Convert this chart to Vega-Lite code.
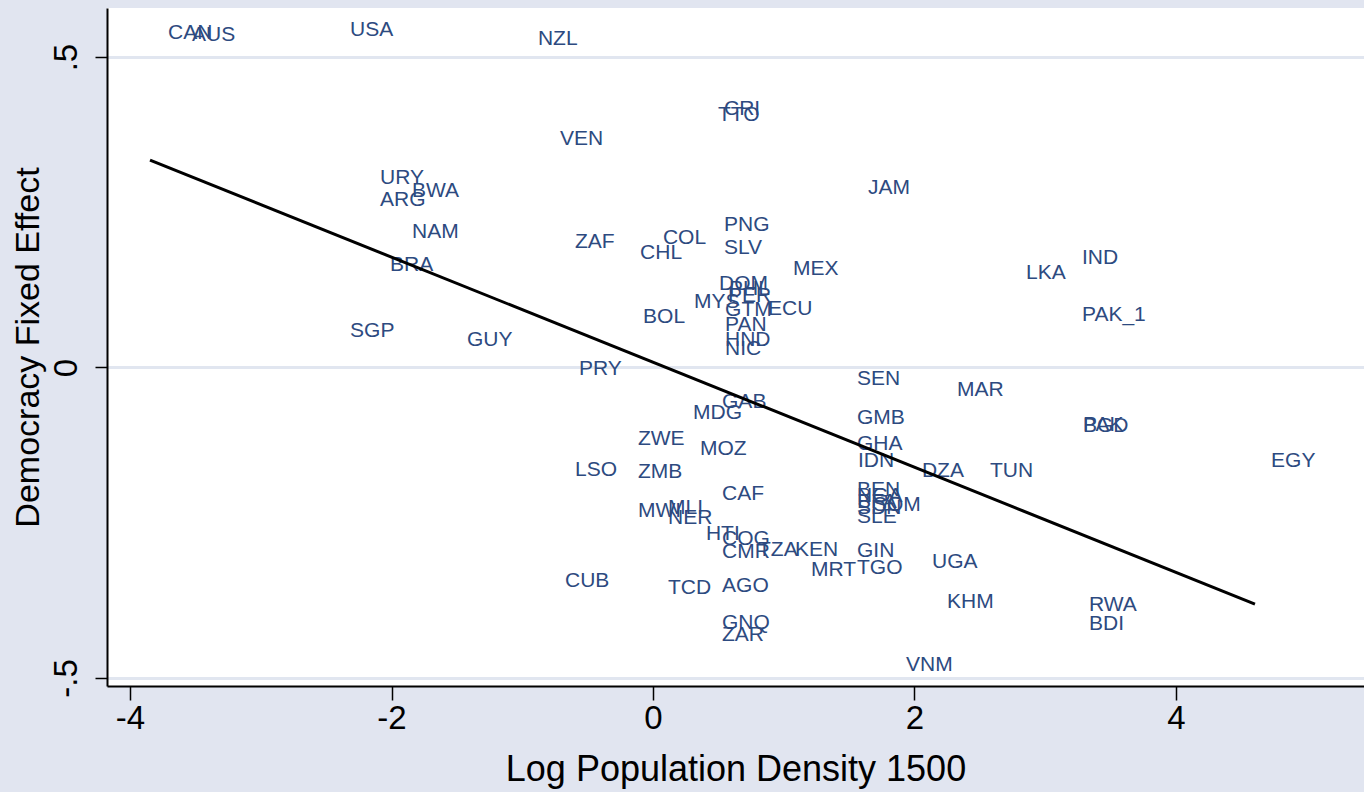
{
  "$schema": "https://vega.github.io/schema/vega-lite/v6.json",
  "autosize": {"type": "none"},
  "padding": {"left": 107, "top": 8, "right": 0, "bottom": 106},
  "width": 1257,
  "height": 678,
  "background": "#e1e5f0",
  "config": {"view": {"stroke": null, "fill": "white"}, "font": "Liberation Sans"},
  "datasets": {
    "countries": [
      {"code": "CAN", "x": -3.839, "y": 0.539},
      {"code": "AUS", "x": -3.656, "y": 0.535},
      {"code": "USA", "x": -2.447, "y": 0.544},
      {"code": "NZL", "x": -1.010, "y": 0.529},
      {"code": "CRI", "x": 0.413, "y": 0.416},
      {"code": "TTO", "x": 0.367, "y": 0.406},
      {"code": "VEN", "x": -0.841, "y": 0.368},
      {"code": "URY", "x": -2.218, "y": 0.305},
      {"code": "BWA", "x": -1.973, "y": 0.284},
      {"code": "ARG", "x": -2.218, "y": 0.269},
      {"code": "JAM", "x": 1.514, "y": 0.289},
      {"code": "PNG", "x": 0.413, "y": 0.229},
      {"code": "NAM", "x": -1.973, "y": 0.218},
      {"code": "ZAF", "x": -0.727, "y": 0.202},
      {"code": "COL", "x": -0.054, "y": 0.208},
      {"code": "CHL", "x": -0.229, "y": 0.184},
      {"code": "SLV", "x": 0.413, "y": 0.192},
      {"code": "BRA", "x": -2.141, "y": 0.165},
      {"code": "MEX", "x": 0.941, "y": 0.158},
      {"code": "IND", "x": 3.151, "y": 0.176},
      {"code": "LKA", "x": 2.723, "y": 0.152},
      {"code": "DOM", "x": 0.375, "y": 0.134},
      {"code": "PHL", "x": 0.451, "y": 0.127},
      {"code": "PER", "x": 0.444, "y": 0.115},
      {"code": "MYS", "x": 0.184, "y": 0.106},
      {"code": "GTM", "x": 0.421, "y": 0.092},
      {"code": "ECU", "x": 0.750, "y": 0.094},
      {"code": "BOL", "x": -0.206, "y": 0.081},
      {"code": "PAN", "x": 0.421, "y": 0.068},
      {"code": "HND", "x": 0.421, "y": 0.044},
      {"code": "NIC", "x": 0.421, "y": 0.029},
      {"code": "SGP", "x": -2.447, "y": 0.058},
      {"code": "GUY", "x": -1.553, "y": 0.045},
      {"code": "PAK_1", "x": 3.151, "y": 0.085},
      {"code": "PRY", "x": -0.696, "y": -0.002},
      {"code": "SEN", "x": 1.430, "y": -0.018},
      {"code": "MAR", "x": 2.195, "y": -0.037},
      {"code": "GAB", "x": 0.398, "y": -0.056},
      {"code": "MDG", "x": 0.176, "y": -0.073},
      {"code": "GMB", "x": 1.430, "y": -0.081},
      {"code": "PAK", "x": 3.159, "y": -0.093},
      {"code": "BGD", "x": 3.159, "y": -0.095},
      {"code": "ZWE", "x": -0.245, "y": -0.115},
      {"code": "MOZ", "x": 0.229, "y": -0.131},
      {"code": "GHA", "x": 1.430, "y": -0.124},
      {"code": "IDN", "x": 1.438, "y": -0.150},
      {"code": "LSO", "x": -0.727, "y": -0.165},
      {"code": "ZMB", "x": -0.245, "y": -0.168},
      {"code": "DZA", "x": 1.927, "y": -0.166},
      {"code": "TUN", "x": 2.447, "y": -0.166},
      {"code": "EGY", "x": 4.597, "y": -0.150},
      {"code": "CAF", "x": 0.398, "y": -0.203},
      {"code": "BEN", "x": 1.430, "y": -0.198},
      {"code": "NGA", "x": 1.430, "y": -0.207},
      {"code": "BFA", "x": 1.430, "y": -0.217},
      {"code": "SOM", "x": 1.552, "y": -0.221},
      {"code": "SDN", "x": 1.430, "y": -0.226},
      {"code": "SLE", "x": 1.430, "y": -0.240},
      {"code": "MWI", "x": -0.245, "y": -0.231},
      {"code": "MLI", "x": -0.015, "y": -0.227},
      {"code": "NER", "x": -0.015, "y": -0.242},
      {"code": "HTI", "x": 0.275, "y": -0.268},
      {"code": "COG", "x": 0.398, "y": -0.276},
      {"code": "CMR", "x": 0.398, "y": -0.297},
      {"code": "TZA", "x": 0.673, "y": -0.294},
      {"code": "KEN", "x": 0.956, "y": -0.294},
      {"code": "GIN", "x": 1.430, "y": -0.295},
      {"code": "MRT", "x": 1.078, "y": -0.326},
      {"code": "TGO", "x": 1.430, "y": -0.323},
      {"code": "UGA", "x": 2.004, "y": -0.313},
      {"code": "CUB", "x": -0.803, "y": -0.344},
      {"code": "TCD", "x": -0.015, "y": -0.355},
      {"code": "AGO", "x": 0.398, "y": -0.352},
      {"code": "KHM", "x": 2.119, "y": -0.377},
      {"code": "RWA", "x": 3.205, "y": -0.382},
      {"code": "BDI", "x": 3.205, "y": -0.413},
      {"code": "GNQ", "x": 0.398, "y": -0.411},
      {"code": "ZAR", "x": 0.398, "y": -0.431},
      {"code": "VNM", "x": 1.805, "y": -0.479}
    ],
    "fit": [
      {"x": -3.847, "y": 0.334},
      {"x": 4.604, "y": -0.381}
    ]
  },
  "layer": [
    {
      "data": {"name": "countries"},
      "mark": {"type": "text", "align": "left", "baseline": "middle", "dx": 17, "font": "Liberation Sans", "fontSize": 21, "color": "#2d4a80"},
      "encoding": {
        "x": {
          "field": "x", "type": "quantitative",
          "scale": {"domain": [-4.176, 5.438], "nice": false, "zero": false},
          "axis": {
            "values": [-4, -2, 0, 2, 4],
            "labelExpr": "'' + datum.value",
            "title": "Log Population Density 1500",
            "titleFontSize": 36, "titleFontWeight": "normal", "titleColor": "black", "titlePadding": 17,
            "labelFontSize": 33, "labelColor": "black", "labelPadding": 2, "labelFlush": false,
            "tickSize": 14, "tickColor": "black", "tickWidth": 1.5,
            "domainColor": "black", "domainWidth": 2, "grid": false
          }
        },
        "y": {
          "field": "y", "type": "quantitative",
          "scale": {"domain": [-0.513, 0.579], "nice": false, "zero": false},
          "axis": {
            "values": [-0.5, 0, 0.5],
            "labelExpr": "datum.value == 0.5 ? '.5' : (datum.value == -0.5 ? '-.5' : '0')",
            "title": "Democracy Fixed Effect",
            "titleFontSize": 34, "titleFontWeight": "normal", "titleColor": "black", "titlePadding": 5,
            "labelFontSize": 33, "labelColor": "black", "labelAngle": -90, "labelAlign": "center", "labelBaseline": "bottom", "labelPadding": 12, "labelFlush": false,
            "tickSize": 12, "tickColor": "black", "tickWidth": 1.5,
            "domainColor": "black", "domainWidth": 2,
            "grid": true, "gridColor": "#e1e6f0", "gridWidth": 3
          }
        },
        "text": {"field": "code", "type": "nominal"}
      }
    },
    {
      "data": {"name": "fit"},
      "mark": {"type": "line", "color": "black", "strokeWidth": 3},
      "encoding": {
        "x": {"field": "x", "type": "quantitative"},
        "y": {"field": "y", "type": "quantitative"}
      }
    }
  ]
}
